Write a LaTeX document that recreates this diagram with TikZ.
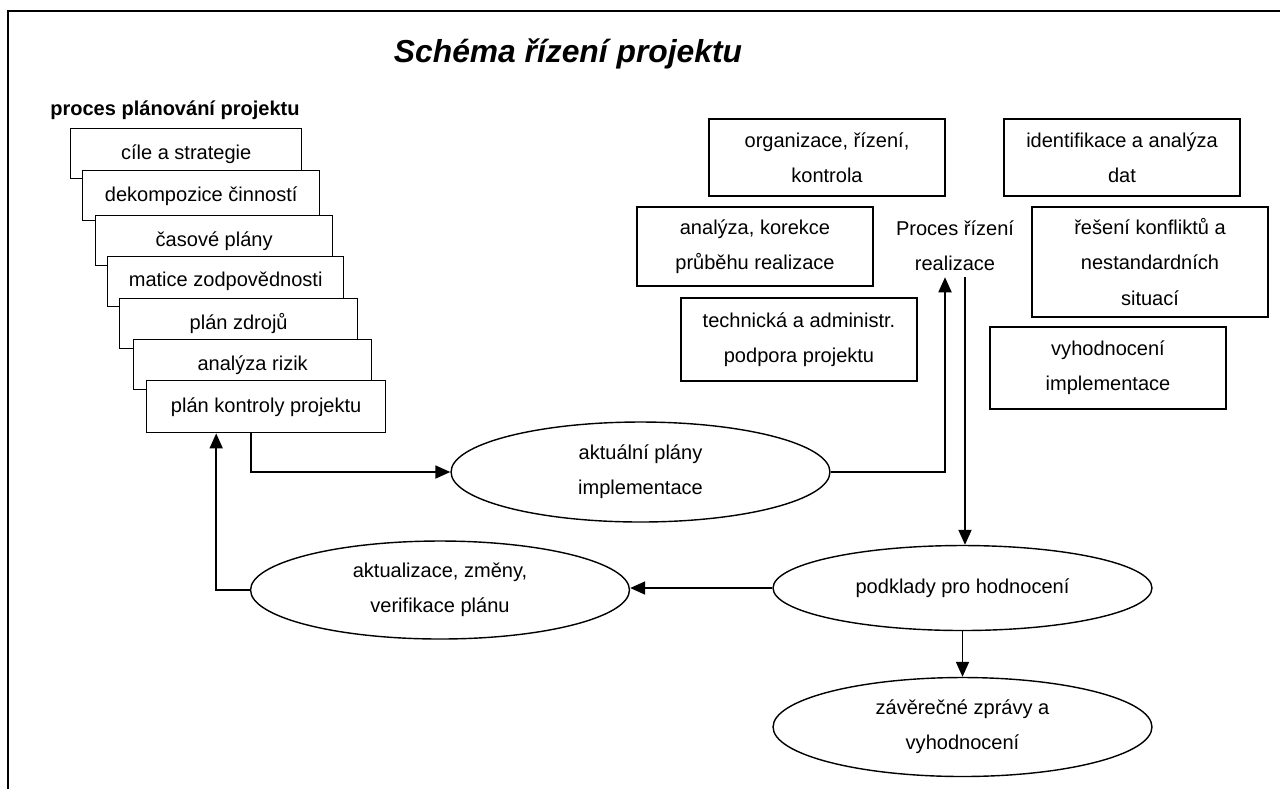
\documentclass[tikz,border=0pt]{standalone}
\usepackage{fontspec}
\setmainfont{Liberation Sans}
\usetikzlibrary{arrows.meta,shapes.geometric}
\tikzset{
	planbox/.style={draw,line width=0.8pt,fill=white,anchor=north west,minimum width=4.72cm,minimum height=1cm,inner sep=0pt},
	taskbox/.style={draw,line width=0.8pt,align=center,minimum width=4.72cm,inner sep=0pt},
	stateell/.style={draw,line width=0.8pt,ellipse,align=center,minimum width=7.58cm,inner sep=0pt},
	arr/.style={line width=1pt,-{Triangle[length=0.3cm,width=0.26cm]}}
}
\begin{document}
\begin{tikzpicture}[x=0.02cm,y=-0.02cm,font=\fontsize{11.4pt}{20pt}\selectfont]
		\useasboundingbox (0,0) rectangle (1280,789);
		\draw[line width=1.2pt] (8,789) -- (8,11) -- (1280,11);
		\node (title) at (568,54) {\fontsize{18.1pt}{22pt}\selectfont\bfseries\itshape Schéma řízení projektu};
		\node (planhead) at (175,110) {\bfseries proces plánování projektu};
		\node[planbox,minimum width=4.62cm] (plan1) at (70,128) {cíle a strategie};
		\node[planbox,minimum width=4.74cm] (plan2) at (82,170) {dekompozice činností};
		\node[planbox,minimum width=4.74cm] (plan3) at (95,215) {časové plány};
		\node[planbox] (plan4) at (107,256) {matice zodpovědnosti};
		\node[planbox,minimum width=4.76cm] (plan5) at (119,298) {plán zdrojů};
		\node[planbox,minimum width=4.76cm] (plan6) at (133,339) {analýza rizik};
		\node[planbox,minimum width=4.78cm,minimum height=1.04cm] (plan7) at (146,380) {plán kontroly projektu};
		\node[taskbox,minimum height=1.54cm] (org) at (827,157.5) {organizace, řízení,\\kontrola};
		\node[taskbox,minimum height=1.54cm] (ident) at (1122,157.5) {identifikace a analýza\\dat};
		\node[taskbox,minimum height=1.58cm] (korekce) at (755,246.5) {analýza, korekce\\průběhu realizace};
		\node[taskbox,minimum height=2.2cm] (konflikt) at (1150,262) {řešení konfliktů a\\nestandardních\\situací};
		\node[taskbox,minimum height=1.66cm] (podpora) at (799,339.5) {technická a administr.\\podpora projektu};
		\node[taskbox,minimum height=1.64cm] (vyhod) at (1108,368) {vyhodnocení\\implementace};
		\node[align=center] (proces) at (955,246) {Proces řízení\\realizace};
		\node[stateell,minimum height=2cm] (plany) at (640.5,472) {aktuální plány\\implementace};
		\node[stateell,minimum height=1.96cm] (zmeny) at (440,590) {aktualizace, změny,\\verifikace plánu};
		\node[stateell,minimum height=1.7cm] (podklady) at (962.5,588) {podklady pro hodnocení};
		\node[stateell,minimum height=1.98cm] (zaver) at (962.5,727) {závěrečné zprávy a\\vyhodnocení};
		\draw[arr] ([xshift=-0.3cm]plan7.south) |- (plany.west);
		\draw[arr] (plany.east) -| ([xshift=-0.2cm]proces.south);
		\draw[arr] ([xshift=0.2cm]proces.south) -- ([xshift=0.2cm]proces.south |- podklady.north);
		\draw[arr] (podklady.west) -- (zmeny.east |- podklady.west);
		\draw[arr] (zmeny.west) -| ([xshift=-1cm]plan7.south);
		\draw[arr] (podklady.south) -- (zaver.north);
\end{tikzpicture}
\end{document}
